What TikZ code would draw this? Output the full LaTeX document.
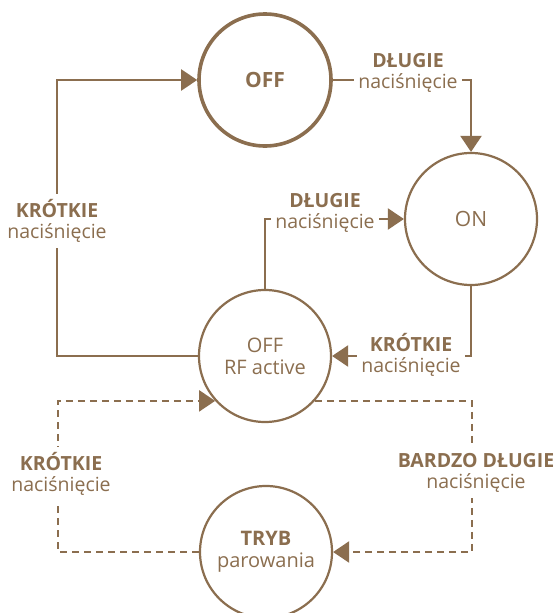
\documentclass[tikz,border=0pt]{standalone}
\usepackage{fontspec}
\setmainfont{Open Sans}
\usetikzlibrary{arrows.meta}
\definecolor{braz}{RGB}{139,110,79}

\begin{document}
\begin{tikzpicture}[x=1pt,y=-1pt,
	stan/.style={circle,draw=braz,line width=2.2pt,minimum size=132pt,inner sep=0pt,
		align=center,text=braz,font=\fontsize{20}{22}\selectfont},
	przejscie/.style={draw=braz,line width=2.2pt,-{Triangle[length=16pt,width=21pt]}},
	opis/.style={fill=white,align=center,text=braz,inner xsep=4pt,inner ysep=5pt,
		font=\fontsize{19.5}{21}\selectfont}]
	\useasboundingbox (0,0) rectangle (559,613);

	%STANY
	\node[stan,line width=3.6pt] (off) at (265,80) {\fontsize{21}{23}\selectfont\bfseries OFF};
	\node[stan] (on) at (471,219) {\fontsize{21}{23}\selectfont ON};
	\node[stan] (rf) at (265,356) {OFF\\RF active};
	\node[stan] (tryb) at (266,552) {\textbf{TRYB}\\parowania};

	\coordinate (lewo) at (57,0);
	\coordinate (dlewo) at (58,552);
	\coordinate (dprawo) at (472,552);

	%PRZEJSCIA
	\draw[przejscie] (off.east) -| (on.north);
	\draw[przejscie] (rf.west) -- (rf.west -| lewo) -- (off.west -| lewo) -- (off.west);
	\draw[przejscie] (rf.north) |- (on.west);
	\draw[przejscie] (on.south) |- (rf.east);
	\draw[przejscie,dashed,dash pattern=on 7pt off 5pt] (rf.-42) -| (dprawo) -- (tryb.east);
	\draw[przejscie,dashed,dash pattern=on 7pt off 5pt] (tryb.west) -- (dlewo) |- (rf.222);

	%OPISY
	\node[opis] (l1) at (408,73) {\textbf{DŁUGIE}\\naciśnięcie};
	\node[opis] (l2) at (57,221) {\textbf{KRÓTKIE}\\naciśnięcie};
	\node[opis] (l3) at (325,213) {\textbf{DŁUGIE}\\naciśnięcie};
	\node[opis] (l4) at (411,355) {\textbf{KRÓTKIE}\\naciśnięcie};
	\node[opis] (l5) at (61,474) {\textbf{KRÓTKIE}\\naciśnięcie};
	\node[opis] (l6) at (476,473) {\textbf{BARDZO DŁUGIE}\\naciśnięcie};
\end{tikzpicture}
\end{document}
